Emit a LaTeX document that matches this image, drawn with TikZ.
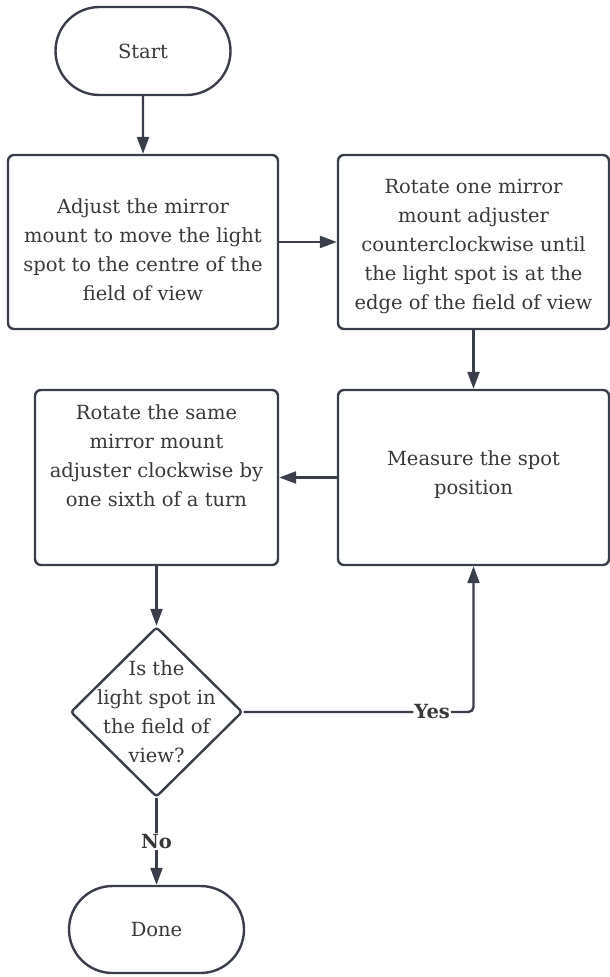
\documentclass[tikz,border=0pt]{standalone}
\usepackage{fontspec}
\setmainfont{DejaVu Serif}
\usetikzlibrary{arrows.meta,shapes.misc,shapes.geometric}
\definecolor{linec}{HTML}{3A3E4A}
\definecolor{textc}{HTML}{383838}
\begin{document}
\begin{tikzpicture}[x=1pt,y=-1pt,
  every node/.style={font=\fontsize{19.5}{29}\selectfont, text=textc},
  stadium/.style={draw=linec, line width=2.4pt, rounded rectangle, inner sep=0pt},
  procbox/.style={draw=linec, line width=2.4pt, rounded corners=6pt, inner sep=0pt},
  decbox/.style={draw=linec, line width=2.4pt, diamond, rounded corners=3pt, inner sep=0pt},
  txt/.style={align=center, inner sep=0pt},
  conn/.style={draw=linec, line width=2.4pt, -{Triangle[width=12pt,length=17pt]}},
  lbl/.style={font=\fontsize{19.5}{29}\selectfont\bfseries, fill=white, inner sep=1pt}
]
\useasboundingbox (0,0) rectangle (610,977);

\node[stadium, minimum width=175pt, minimum height=88pt] (start) at (143,51) {Start};
\node[procbox, minimum width=270pt, minimum height=174pt] (b1) at (143,242) {};
\node[txt] at (143,250) {Adjust the mirror\\mount to move the light\\spot to the centre of the\\field of view};
\node[procbox, minimum width=271pt, minimum height=174pt] (b2) at (473.5,242) {};
\node[txt] at (473.5,246) {Rotate one mirror\\mount adjuster\\counterclockwise until\\the light spot is at the\\edge of the field of view};
\node[procbox, minimum width=271pt, minimum height=175pt] (b3) at (473.5,477.5) {};
\node[txt] at (473.5,475) {Measure the spot\\position};
\node[procbox, minimum width=243pt, minimum height=175pt] (b4) at (156.5,477.5) {};
\node[txt] at (156.5,456) {Rotate the same\\mirror mount\\adjuster clockwise by\\one sixth of a turn};
\node[decbox, minimum width=172pt, minimum height=170pt] (dia) at (156.5,712) {};
\node[txt] at (156.5,712) {Is the\\light spot in\\the field of\\view?};
\node[stadium, minimum width=175pt, minimum height=87pt] (done) at (156.5,929.5) {Done};

\draw[conn] (start) -- (b1);
\draw[conn] (b1) -- (b2);
\draw[conn] (b2) -- (b3);
\draw[conn] (b3) -- (b4);
\draw[conn] (b4) -- (dia);
\draw[conn, rounded corners=5pt] (dia.east) -- node[lbl, pos=0.82] {Yes} (b3.south |- dia.east) -- (b3.south);
\draw[conn] (dia.south) -- node[lbl, pos=0.5] {No} (done.north);
\end{tikzpicture}
\end{document}
